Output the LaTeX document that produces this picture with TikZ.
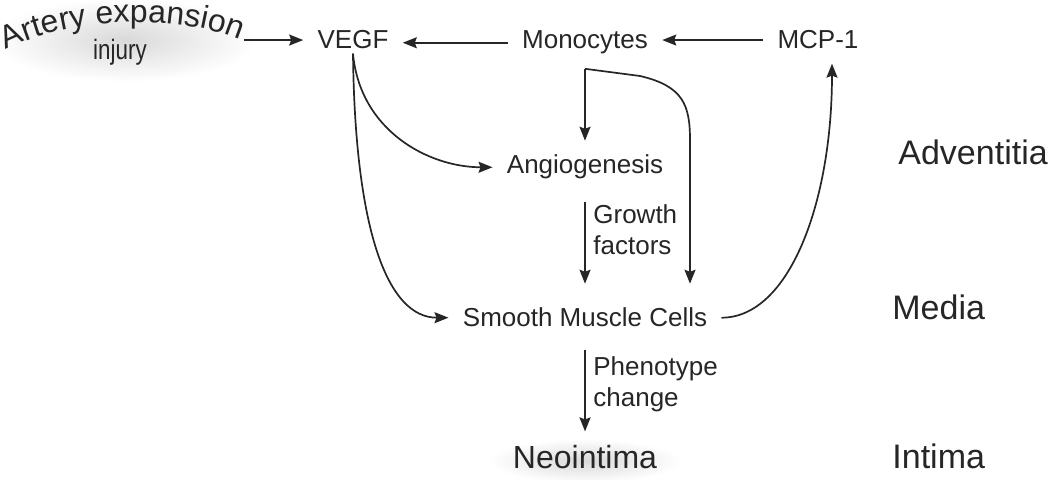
\documentclass[tikz,border=0pt]{standalone}
\usepackage{fontspec}
\setmainfont{Liberation Sans}
\newfontfamily\narrowfont[FakeStretch=0.8]{Liberation Sans}
\usetikzlibrary{arrows.meta,decorations.text}

\begin{document}
\begin{tikzpicture}[
  x=0.5pt, y=0.5pt,
  >={Stealth[length=7pt,width=5.5pt,inset=1pt]},
  every node/.style={text=black!85},
  cellnode/.style={
    inner sep=7pt, anchor=base,
    font=\fontsize{13}{15.5}\selectfont
  },
  layerlbl/.style={
    inner sep=0pt, anchor=base west,
    font=\fontsize{17}{20}\selectfont
  },
  arrlbl/.style={
    inner sep=0pt, anchor=north west, align=left,
    font=\fontsize{13}{15.5}\selectfont
  },
  arr/.style={->, line width=0.85pt, draw=black!85},
  glow/.style={inner color=black!15, outer color=white}
]
\useasboundingbox (0,0) rectangle (1050,-480);

% =============================================================
% soft glows behind the stimulus and the outcome
% =============================================================
\shade[glow] (125,-40) ellipse [x radius=66pt, y radius=21pt];
\shade[glow] (585,-461) ellipse [x radius=48pt, y radius=11pt];

% =============================================================
% top: stimulus, VEGF, monocytes, MCP-1
% =============================================================
\path[decorate, decoration={text along path, text align=center,
      text={|\color{black!85}\fontsize{16}{18}\selectfont|Artery expansion}}]
   (6,-50) .. controls (70,-16) and (180,-14) .. (240,-40);
\node[font=\narrowfont\fontsize{14}{16}\selectfont] (injury) at (120,-52) {injury};
\coordinate (artery) at (244,-40);

\node[cellnode] (vegf) at (353,-49) {VEGF};
\node[cellnode] (mono) at (585,-49) {Monocytes};
\node[cellnode] (mcp)  at (818,-49) {MCP-1};

% middle and bottom column
\node[cellnode] (angio) at (585,-174) {Angiogenesis};
\node[cellnode] (smc)   at (585,-327) {Smooth Muscle Cells};
\node[cellnode, font=\fontsize{16}{18}\selectfont] (neo) at (585,-469) {Neointima};

% labels on the vertical arrows
\node[arrlbl] (growth) at (593,-204) {Growth\\factors};
\node[arrlbl] (pheno)  at (593,-356) {Phenotype\\change};

% vessel wall layers
\node[layerlbl] (advent) at (898,-165) {Adventitia};
\node[layerlbl] (media)  at (892,-320) {Media};
\node[layerlbl] (intima) at (892,-469) {Intima};

% =============================================================
% arrows
% =============================================================

% injury -> VEGF
\draw[arr] (artery) -- (vegf.west);

% monocytes -> VEGF, MCP-1 -> monocytes
\draw[arr] (mono.west) -- (mono.west -| vegf.east);
\draw[arr] (mcp.west) -- (mcp.west -| mono.east);

% monocytes -> angiogenesis
\draw[arr] (mono.south) -- (angio.north);

% monocytes -> smooth muscle cells (right branch)
\coordinate (drop) at (690,-140);
\draw[arr, shorten >=5pt] (mono.south) -- (640,-76)
   .. controls (683,-86) and (690,-105) .. (drop) -- (drop |- smc.north);

% VEGF -> angiogenesis / smooth muscle cells
\draw[arr] ([yshift=5pt]vegf.south) .. controls +(7,-77) and +(-64,0) .. (angio.west);
\draw[arr] ([yshift=5pt]vegf.south) .. controls +(2,-177) and +(-61,0) .. (smc.west);

% growth factors, phenotype change
\draw[arr, shorten <=4pt, shorten >=5pt] (angio.south) -- (smc.north);
\draw[arr, shorten <=4pt] (smc.south) -- (neo.north);

% smooth muscle cells -> MCP-1
\draw[arr] (smc.east) .. controls +(68,0) and +(0,-138) .. ([xshift=7pt]mcp.south);

\end{tikzpicture}
\end{document}
